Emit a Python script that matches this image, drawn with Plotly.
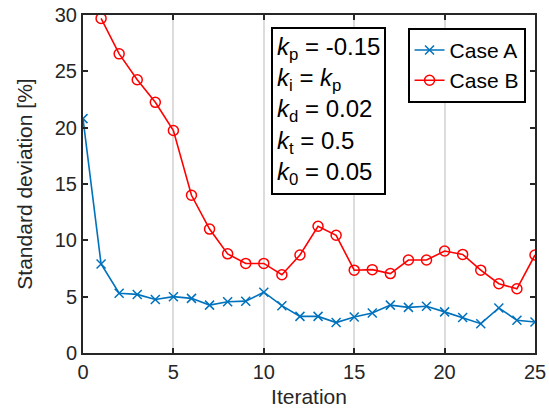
import plotly.graph_objects as go

iterations = list(range(26))
case_a = [20.8, 7.9, 5.3, 5.2, 4.75, 5.0, 4.85, 4.25, 4.55, 4.6, 5.4,
          4.2, 3.25, 3.25, 2.7, 3.2, 3.55, 4.25, 4.05, 4.15, 3.65,
          3.15, 2.6, 4.0, 2.9, 2.75]
iter_b = list(range(1, 26))
case_b = [29.7, 26.55, 24.25, 22.25, 19.75, 14.0, 11.0, 8.8, 7.95, 7.95,
          6.95, 8.7, 11.25, 10.45, 7.35, 7.4, 7.05, 8.25, 8.25, 9.05,
          8.75, 7.35, 6.15, 5.7, 8.7]

FONT = "Liberation Sans, Arial, sans-serif"

fig = go.Figure()
fig.add_trace(go.Scatter(
    x=iterations, y=case_a, mode="lines+markers", name="Case A",
    line=dict(color="#0072BD", width=1.6),
    marker=dict(symbol="x-thin-open", size=9, color="#0072BD",
                line=dict(color="#0072BD", width=1.5)),
))
fig.add_trace(go.Scatter(
    x=iter_b, y=case_b, mode="lines+markers", name="Case B",
    line=dict(color="#FF0000", width=1.6),
    marker=dict(symbol="circle-open", size=10, color="#FF0000",
                line=dict(color="#FF0000", width=1.5)),
))

axis_common = dict(
    showline=True, linecolor="#262626", linewidth=2, mirror="ticks",
    ticks="inside", ticklen=5, tickwidth=1.5, tickcolor="#262626",
    tickfont=dict(family=FONT, size=20, color="#262626"),
    zeroline=False, automargin=False,
)

fig.update_xaxes(
    range=[0, 25], tickvals=[0, 5, 10, 15, 20, 25],
    showgrid=True, gridcolor="#DCDCDC", gridwidth=1.5,
    title=dict(text="Iteration", font=dict(family=FONT, size=21, color="#262626"), standoff=7),
    **axis_common,
)
fig.update_yaxes(
    range=[0, 30], tickvals=[0, 5, 10, 15, 20, 25, 30],
    showgrid=False,
    title=dict(text="Standard deviation [%]", font=dict(family=FONT, size=21, color="#262626"), standoff=16),
    **axis_common,
)

ann_text = ("<i>k</i><sub>p</sub> = -0.15<br>"
            "<i>k</i><sub>i</sub> = <i>k</i><sub>p</sub><br>"
            "<i>k</i><sub>d</sub> = 0.02<br>"
            "<i>k</i><sub>t</sub> = 0.5<br>"
            "<i>k</i><sub>0</sub> = 0.05")
fig.add_annotation(
    text=ann_text, xref="paper", yref="paper", x=0.415, y=0.965,
    xanchor="left", yanchor="top", showarrow=False, align="left",
    font=dict(family=FONT, size=24, color="black"),
    bordercolor="black", borderwidth=2, borderpad=4, bgcolor="white",
)

fig.update_layout(
    width=549, height=412,
    margin=dict(l=83, r=14, t=15, b=59),
    paper_bgcolor="white", plot_bgcolor="white",
    font=dict(family=FONT, color="#262626"),
    legend=dict(
        x=0.718, y=0.962, xanchor="left", yanchor="top",
        bordercolor="black", borderwidth=2, bgcolor="white",
        font=dict(family=FONT, size=21, color="black"),
        tracegroupgap=0, itemwidth=30,
    ),
)

fig.write_html("out.html")
